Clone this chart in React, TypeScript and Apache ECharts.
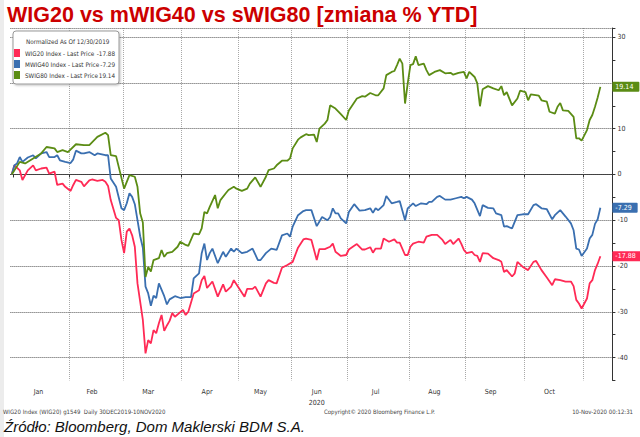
import { useEffect, useRef } from 'react';
import * as echarts from 'echarts';

// ---------- texts ----------
const TITLE = 'WIG20 vs mWIG40 vs sWIG80 [zmiana % YTD]';
const LEGEND_HEADER = 'Normalized As Of 12/30/2019';
const SERIES_NAMES = ['WIG20 Index', 'MWIG40 Index', 'SWIG80 Index'];
const LAST_PRICES = [-17.88, -7.29, 19.14];
const MONTH_NAMES = ['Jan', 'Feb', 'Mar', 'Apr', 'May', 'Jun', 'Jul', 'Aug', 'Sep', 'Oct', 'Nov', 'Dec'];
const YEAR_LABEL = '2020';
const YEAR_LABEL_MONTH = 6;
const FOOTER_LEFT = 'WIG20 Index (WIG20) g1549  Daily 30DEC2019-10NOV2020';
const FOOTER_MID = 'Copyright\u00A9 2020 Bloomberg Finance L.P.';
const FOOTER_RIGHT = '10-Nov-2020 00:12:31';
const SOURCE = 'Źródło: Bloomberg, Dom Maklerski BDM S.A.';

// ---------- axis ----------
const FIRST_DAY = '2019-12-30';
const LAST_DAY = '2020-11-17';
const HOLIDAYS = ['2019-12-31', '2020-01-01', '2020-01-06', '2020-04-13', '2020-05-01', '2020-06-11', '2020-11-11'];
const Y_MIN = -45;
const Y_MAX = 32;
const Y_STEP = 5;
const Y_GRID = [-40, -30, -20, -10, 0, 10, 20, 30];

// ---------- data (trading-day index from 30 Dec 2019, % change) ----------
const w20Days = [0,1,3,4,6,8,9,11,13,14,16,17,19,20,22,23,24,26,27,29,30,32,34,35,36,37,39,40,41,42,43,44,45,46,47,48,49,50,51,52,53,54,55,56,57,58,59,60,61,64,65,66,68,70,71,72,73,75,77,79,80,82,83,85,87,88,90,91,93,95,96,98,99,101,103,105,107,109,110,112,114,115,117,119,120,121,123,125,126,128,129,131,132,134,135,136,138,139,141,143,144,145,147,148,149,150,152,154,155,157,159,161,162,164,165,167,168,169,170,172,173,174,175,176,178,180,182,183,184,185,187,188,189,191,193,195,196,198,200,202,203,205,207,209,210,211,212,213,215,216,217,218,219,220];
const w20Vals = [0,2.0,0.9,-1.2,0.9,2.0,0.9,1.3,1.5,0.2,0.6,-2.3,-2.0,-2.7,-3.6,-2.3,-1.2,-1.6,-2.6,-1.3,-1.1,-1.4,-1.2,-1.6,-2.5,-5.6,-9.5,-10.0,-14.3,-17.2,-12.5,-11.8,-13.3,-15.8,-23.8,-27.8,-31.8,-39.1,-36.2,-36.9,-34.0,-34.7,-32.5,-30.7,-34.2,-33.0,-32.0,-30.3,-31.1,-29.6,-30.7,-30.0,-26.0,-25.3,-23.1,-22.2,-24.8,-23.4,-26.7,-24.0,-25.6,-24.5,-23.1,-24.9,-26.7,-25.0,-25.0,-24.5,-26.7,-23.8,-23.1,-23.7,-23.8,-20.4,-19.8,-19.1,-16.0,-14.2,-14.0,-14.3,-18.7,-16.3,-16.3,-15.8,-15.1,-16.9,-17.8,-17.6,-16.4,-15.6,-15.2,-16.4,-16.4,-15.9,-17.1,-16.2,-16.2,-14.0,-14.7,-14.2,-14.9,-14.9,-17.6,-17.6,-15.8,-15.1,-14.7,-14.9,-13.6,-13.2,-13.2,-14.3,-15.2,-14.3,-15.2,-14.0,-15.1,-16.5,-17.2,-16.9,-17.6,-17.8,-19.1,-17.2,-17.3,-18.3,-18.7,-19.1,-21.3,-20.9,-22.3,-21.6,-19.1,-20.2,-20.9,-19.1,-18.9,-20.9,-22.5,-24.2,-22.9,-23.1,-23.4,-23.4,-24.4,-27.4,-28.2,-29.3,-27.1,-23.8,-23.1,-20.9,-19.5,-17.88];

const mw40Days = [0,1,2,3,4,6,8,9,11,13,14,16,17,18,20,22,23,24,26,27,29,31,32,35,36,37,39,41,42,43,44,45,46,47,48,49,50,51,52,53,54,55,57,58,59,61,63,65,67,68,70,71,72,73,74,75,77,79,80,82,83,84,86,88,90,92,93,95,97,99,101,103,104,105,107,109,110,112,114,116,118,119,120,121,122,123,125,126,128,130,132,134,135,136,137,139,140,142,144,145,147,148,150,151,153,155,156,157,159,160,162,164,166,168,169,170,172,173,175,176,178,180,181,183,184,185,187,189,191,193,195,196,198,200,202,203,205,207,209,210,211,212,213,215,216,217,218,219,220];
const mw40Vals = [0,2.0,2.4,3.8,2.75,3.7,4.2,3.5,4.6,4.9,3.8,3.8,4.2,3.1,2.75,2.5,3.3,5.2,4.6,4.6,4.9,4.2,4.6,4.2,4.2,-0.9,-2.7,-7.4,-7.8,-6.3,-4.1,-4.9,-6.5,-10.0,-13.5,-16.0,-24.5,-26.0,-28.7,-26.5,-27.0,-23.8,-26.6,-28.4,-27.3,-26.6,-27.0,-26.8,-26.8,-22.7,-21.6,-17.2,-15.1,-18.7,-17.2,-16.2,-19.4,-16.9,-18.0,-16.2,-16.9,-16.2,-17.2,-16.9,-16.2,-18.7,-18.7,-17.2,-16.2,-16.5,-13.3,-12.9,-13.6,-11.4,-8.9,-8.0,-7.8,-7.8,-11.3,-9.3,-10.0,-9.3,-7.4,-8.5,-8.5,-9.6,-10.7,-8.2,-6.5,-7.9,-7.8,-7.4,-8.4,-7.4,-7.8,-6.7,-4.7,-6.3,-6.0,-5.8,-10.0,-7.4,-6.3,-6.9,-6.3,-6.5,-6.0,-6.0,-4.9,-4.7,-5.5,-5.5,-5.2,-4.9,-5.2,-4.9,-5.5,-6.3,-9.1,-6.7,-7.3,-7.4,-8.5,-8.9,-11.4,-11.3,-11.8,-8.9,-8.7,-8.7,-6.7,-6.5,-7.4,-7.6,-9.8,-8.9,-7.8,-9.2,-10.7,-12.2,-16.2,-16.4,-17.8,-16.2,-14.0,-13.2,-10.8,-9.8,-7.29];

const sw80Days = [0,3,5,8,11,13,16,17,19,21,24,27,29,32,35,36,37,39,42,44,46,47,48,49,50,51,52,53,55,56,57,58,60,62,63,65,66,68,70,71,72,73,74,76,77,78,80,81,83,84,86,88,89,91,93,95,96,98,99,101,103,104,105,107,108,110,111,113,114,115,117,118,119,121,123,125,126,129,131,132,134,136,137,139,140,142,143,144,145,146,147,148,149,150,151,152,154,155,156,158,160,162,164,165,167,169,170,171,173,174,175,176,178,180,182,183,184,185,187,189,190,192,193,194,197,198,200,201,203,204,205,206,208,210,211,212,213,215,216,217,218,219,220];
const sw80Vals = [0,2.75,2.4,3.5,4.6,6.0,5.7,4.9,5.3,4.9,6.6,6.4,6.4,8.2,9.1,8.6,4.2,4.0,-3.1,-0.15,-0.5,-2.7,-8.5,-10.5,-22.4,-20.2,-21.2,-18.7,-18.3,-16.5,-18.0,-17.2,-16.9,-15.8,-14.7,-15.4,-15.6,-12.9,-13.1,-11.8,-8.2,-8.5,-7.1,-4.5,-7.4,-5.6,-4.1,-3.4,-2.7,-3.1,-3.6,-3.1,-2.0,-0.65,-2.7,-0.5,0.95,1.3,2.0,3.0,3.0,3.5,5.7,7.6,8.1,8.8,8.6,8.7,7.1,10.0,11.1,11.9,15.1,14.4,13.2,11.9,14.0,16.6,17.1,17.0,17.8,17.3,17.3,18.8,21.7,22.4,22.6,23.9,25.3,24.2,15.5,19.9,23.9,24.1,25.8,23.9,24.2,22.8,21.7,22.4,22.8,22.1,22.2,21.8,22.2,22.4,21.0,22.4,21.3,19.9,14.9,18.6,19.3,18.8,18.4,19.3,17.3,18.0,15.1,16.6,18.3,18.0,16.2,17.5,17.2,16.2,15.9,13.7,13.3,14.8,15.6,14.0,13.9,12.6,7.9,7.9,7.4,9.7,11.9,13.0,14.8,16.8,19.14];

// ---------- styles ----------
const RED = '#ff2a55';
const BLUE = '#3a6fb0';
const GREEN = '#5b8c14';
const TITLE_RED = '#cc0000';
const NARROW = '"Liberation Sans Narrow","DejaVu Sans Condensed","Arial Narrow",sans-serif';

function buildTradingDays(): string[] {
  const out: string[] = [];
  const end = new Date(LAST_DAY + 'T00:00:00Z').getTime();
  for (let t = new Date(FIRST_DAY + 'T00:00:00Z').getTime(); t <= end; t += 86400000) {
    const d = new Date(t);
    const wd = d.getUTCDay();
    const iso = d.toISOString().slice(0, 10);
    if (wd === 0 || wd === 6 || HOLIDAYS.includes(iso)) continue;
    out.push(iso);
  }
  return out;
}

export default function App() {
  const ref = useRef<HTMLDivElement>(null);

  useEffect(() => {
    if (!ref.current) return;
    const chart = echarts.init(ref.current, null, { renderer: 'svg' });

    const cats = buildTradingDays();
    const monthStarts = new Set<number>();
    const groups: { first: number; n: number }[] = [];
    cats.forEach((c, i) => {
      if (i === 0 || c.slice(0, 7) !== cats[i - 1].slice(0, 7)) {
        if (i > 0) monthStarts.add(i);
        groups.push({ first: i, n: 1 });
      } else {
        groups[groups.length - 1].n += 1;
      }
    });
    const labelIdx = new Set<number>();
    groups.forEach((g) => {
      if (g.n >= 15) labelIdx.add(g.first + Math.floor((g.n - 1) / 2) - 1);
    });

    const mk = (days: number[], vals: number[]) => days.map((d, k) => [d, vals[k]]);
    const colors = [RED, BLUE, GREEN];
    const datas = [mk(w20Days, w20Vals), mk(mw40Days, mw40Vals), mk(sw80Days, sw80Vals)];

    const series: any[] = SERIES_NAMES.map((name, k) => ({
      name,
      type: 'line',
      data: datas[k],
      symbol: 'none',
      showSymbol: false,
      z: 3,
      lineStyle: { width: 1.8, color: colors[k] },
      itemStyle: { color: colors[k] },
      endLabel: {
        show: true,
        formatter: () => LAST_PRICES[k].toFixed(2),
        backgroundColor: colors[k],
        color: '#fff',
        fontSize: 7,
        fontFamily: NARROW,
        padding: [2, 6, 1, 3],
        borderRadius: 1,
        distance: 12,
      },
    }));
    series[0].markLine = {
      silent: true,
      z: 1,
      symbol: ['none', 'none'],
      label: { show: false },
      lineStyle: { type: 'dotted', color: '#555', width: 1 },
      emphasis: { disabled: true },
      data: [...Y_GRID, Y_MAX].map((v) => ({ yAxis: v })),
    };

    // axis labels hidden behind a last-price tag (as in the original)
    const coveredByTag = (v: number) => LAST_PRICES.some((p) => Math.abs(p - v) < 1.5);

    const option: any = {
      animation: false,
      backgroundColor: '#ffffff',
      title: [
        {
          text: TITLE,
          left: 7,
          top: 4,
          padding: 0,
          textStyle: { color: TITLE_RED, fontSize: 21.5, fontWeight: 'bold', fontFamily: '"Liberation Sans", Arial, sans-serif' },
        },
        {
          text: LEGEND_HEADER,
          left: 26,
          top: 38,
          padding: 0,
          textStyle: { color: '#333', fontSize: 6.3, fontWeight: 'normal', fontFamily: NARROW },
        },
      ],
      legend: {
        orient: 'vertical',
        left: 13,
        top: 31,
        padding: [18, 4, 5, 1],
        itemGap: 3,
        itemWidth: 6,
        itemHeight: 8,
        icon: 'rect',
        backgroundColor: '#ffffff',
        borderColor: '#999',
        borderWidth: 1,
        borderRadius: 3,
        shadowColor: 'rgba(0,0,0,0.25)',
        shadowBlur: 2,
        shadowOffsetX: 1,
        shadowOffsetY: 1,
        data: SERIES_NAMES,
        formatter: (name: string) => {
          const k = SERIES_NAMES.indexOf(name);
          return `{n|${name} - Last Price}{v|${LAST_PRICES[k].toFixed(2)}}`;
        },
        textStyle: {
          fontSize: 6.3,
          color: '#333',
          fontFamily: NARROW,
          rich: {
            n: { fontSize: 6.3, color: '#333', fontFamily: NARROW, width: 67 },
            v: { fontSize: 6.3, color: '#333', fontFamily: NARROW, width: 23, align: 'right' },
          },
        },
      },
      grid: { left: 10.4, top: 28, width: 602, height: 352.4, containLabel: false },
      xAxis: {
        type: 'category',
        data: cats,
        boundaryGap: true,
        axisLine: { show: true, lineStyle: { color: '#333', width: 1 } },
        axisTick: { show: true, length: 3, interval: (i: number) => monthStarts.has(i), lineStyle: { color: '#333' } },
        axisLabel: {
          show: true,
          interval: (i: number) => labelIdx.has(i),
          formatter: (v: string) => {
            const m = +v.slice(5, 7);
            return m === YEAR_LABEL_MONTH ? `${MONTH_NAMES[m - 1]}\n${YEAR_LABEL}` : MONTH_NAMES[m - 1];
          },
          fontSize: 7,
          lineHeight: 11,
          color: '#333',
          fontFamily: NARROW,
          margin: 6,
        },
        splitLine: {
          show: true,
          interval: (i: number) => monthStarts.has(i) && i > 1,
          lineStyle: { type: 'dotted', color: '#a8a8a8', width: 1 },
        },
      },
      yAxis: {
        type: 'value',
        position: 'right',
        min: Y_MIN,
        max: Y_MAX,
        interval: Y_STEP,
        axisLine: { show: true, lineStyle: { color: '#333', width: 1 } },
        axisTick: { show: true, length: 3, lineStyle: { color: '#333' } },
        axisLabel: {
          formatter: (v: number) =>
            v % 10 === 0 && v >= Y_GRID[0] && v <= Y_GRID[Y_GRID.length - 1] && !coveredByTag(v) ? String(v) : '',
          fontSize: 7,
          color: '#333',
          fontFamily: NARROW,
          margin: 5,
        },
        splitLine: { show: false },
      },
      series,
      graphic: [
        { type: 'rect', silent: true, shape: { x: 0, y: 0, width: 4, height: 437 }, style: { fill: '#ececec' } },
        { type: 'text', left: 3, top: 408, silent: true, style: { text: FOOTER_LEFT, fontSize: 6, fill: '#444', fontFamily: NARROW } },
        { type: 'text', left: 324, top: 408, silent: true, style: { text: FOOTER_MID, fontSize: 6, fill: '#444', fontFamily: NARROW } },
        { type: 'text', right: 7, top: 408, silent: true, style: { text: FOOTER_RIGHT, fontSize: 6, fill: '#444', fontFamily: NARROW } },
        { type: 'text', left: 4, top: 419, silent: true, style: { text: SOURCE, fontSize: 15, fontStyle: 'italic', fill: '#111', fontFamily: '"Liberation Sans", Arial, sans-serif' } },
      ],
    };

    chart.setOption(option);
    return () => chart.dispose();
  }, []);

  return <div ref={ref} style={{ position: 'absolute', left: 0, top: 0, width: 640, height: 437 }} />;
}
